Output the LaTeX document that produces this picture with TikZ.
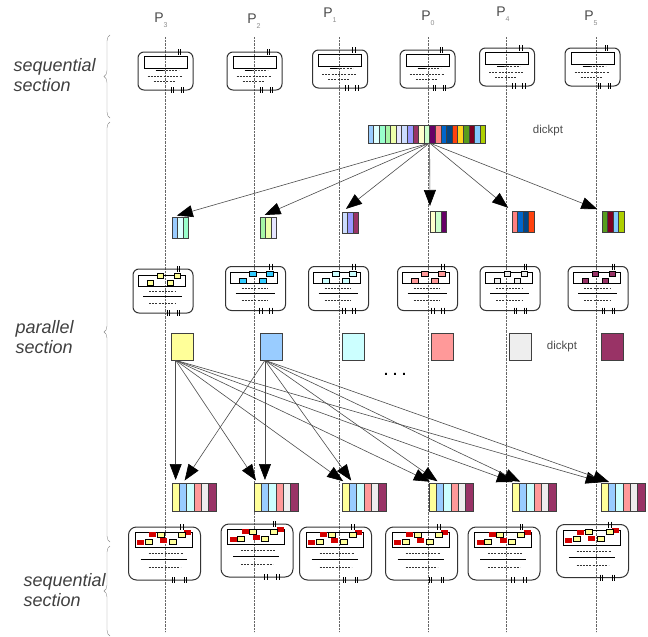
\documentclass[tikz,border=0pt]{standalone}
\usepackage{fontspec}
\setmainfont{Liberation Sans}
\usetikzlibrary{positioning, arrows.meta,
decorations.pathreplacing, % for the braces on the left
calc
}

% colours of the local dickpt pieces
\definecolor{p3a}{HTML}{99CCFF}
\definecolor{p3b}{HTML}{DDFFFF}
\definecolor{p3c}{HTML}{99FFCC}
\definecolor{p2a}{HTML}{A6F5A6}
\definecolor{p2b}{HTML}{EEFFAA}
\definecolor{p2c}{HTML}{E6E6FF}
\definecolor{p1a}{HTML}{CCDDFF}
\definecolor{p1b}{HTML}{9999FF}
\definecolor{p1c}{HTML}{993366}
\definecolor{p0a}{HTML}{FFFFCC}
\definecolor{p0b}{HTML}{CCFFCC}
\definecolor{p0c}{HTML}{660066}
\definecolor{p4a}{HTML}{FF8080}
\definecolor{p4b}{HTML}{0066CC}
\definecolor{p4c}{HTML}{004586}
\definecolor{p4d}{HTML}{FF420E}
\definecolor{gld}{HTML}{FFD320}
\definecolor{p5a}{HTML}{579D1C}
\definecolor{p5b}{HTML}{7E0021}
\definecolor{p5c}{HTML}{83CAFF}
\definecolor{p5d}{HTML}{AECF00}
% colours of the merged dickpt
\definecolor{ylw}{HTML}{FFFF99}
\definecolor{blu}{HTML}{99CCFF}
\definecolor{cyn}{HTML}{CCFFFF}
\definecolor{sal}{HTML}{FF9999}
\definecolor{gry}{HTML}{EEEEEE}
\definecolor{mar}{HTML}{993366}
\definecolor{sky}{HTML}{33CCFF}
\definecolor{rd}{HTML}{D40000}

% two short bars across a line
\newcommand{\tk}[2]{\draw (#1-1.3,#2-3) -- (#1-1.3,#2+3) (#1+1.3,#2-3) -- (#1+1.3,#2+3);}

% a row of stripes #1<i>, first one with its corner at #2
\newcommand{\stripes}[5]{%
  \foreach \col [count=\i] in {#5} {
    \ifnum\i=1
      \node[stripe, minimum width=#3, minimum height=#4, fill=\col, anchor=north west] (#1\i) at (#2) {};
    \else
      \pgfmathtruncatemacro{\j}{\i-1}
      \node[stripe, minimum width=#3, minimum height=#4, fill=\col, right=0pt of #1\j] (#1\i) {};
    \fi
  }}

% insides of the boxes
\newcommand{\seqmarks}[1]{%
  \begin{scope}[shift={(#1.center)}]
    \draw[thick] (-21.5,-15) rectangle (21.5,-3);
    \draw (-10,-1) -- (-3,-1);
    \draw[dline] (-3,-1) -- (13,-1);
    \draw[dline] (-18,5) -- (17,5);
    \draw[dline] (-12,10) -- (10,10);
    \tk{13.5}{-19}
    \tk{6.5}{19}\tk{16.5}{19}
  \end{scope}}
\newcommand{\parmarks}[2]{%
  \begin{scope}[shift={(#1.center)}]
    \draw[thick] (-25,-16) rectangle (22,-5);
    \foreach \px/\py in {-3/-15, 14/-15, -13/-8, 7/-8}
      \draw[fill=#2] (\px-3.3,\py-2.5) rectangle (\px+3.3,\py+2.5);
    \draw[dline] (-14,0) -- (12,0);
    \draw[thick] (-20,5) -- (19,5);
    \draw[dline] (-14,12) -- (12,12);
    \tk{15}{-22}
    \tk{5}{22}\tk{15}{22}
  \end{scope}}
\newcommand{\finmarks}[1]{%
  \begin{scope}[shift={(#1.center)}]
    \draw[thick] (-29.5,-21) rectangle (27.5,-6);
    \foreach \px/\py in {-12/-19, 23/-21, -24/-11, -1/-13}
      \fill[rd] (\px-3.5,\py-2.5) rectangle (\px+3.5,\py+2.5);
    \foreach \px/\py in {-4/-19, 17/-19, -16/-12, 8/-12}
      \draw[fill=ylw] (\px-3.5,\py-2.5) rectangle (\px+3.5,\py+2.5);
    \draw[dline] (-16,0) -- (18,0);
    \draw[thick] (-24,6) -- (22,6);
    \draw[dline] (-16,14) -- (16,14);
    \tk{17}{-26.5}
    \tk{8.5}{26.5}\tk{20.5}{26.5}
  \end{scope}}

\begin{document}
\begin{tikzpicture}[x=1pt, y=-1pt,
  proc/.style={densely dotted, black!60},
  plab/.style={font=\fontsize{14}{14}\selectfont, text=black!70, inner sep=0pt},
  sbox/.style={draw=black!80, line width=1pt, rounded corners=6pt, minimum width=55pt, minimum height=38pt, inner sep=0pt},
  pbox/.style={sbox, minimum width=60pt, minimum height=44pt},
  ebox/.style={sbox, rounded corners=8pt, minimum width=72pt, minimum height=53pt},
  stripe/.style={draw=black!75, line width=0.6pt, inner sep=0pt, outer sep=0pt},
  cpt/.style={draw=black!75, line width=0.6pt, minimum width=22pt, minimum height=27pt, inner sep=0pt},
  dline/.style={dash pattern=on 2pt off 1.2pt, black!80},
  arr/.style={-{Triangle[length=16pt,width=12pt,color=black]}, black!70, line width=0.6pt, shorten >=5pt},
  brc/.style={decorate, decoration={brace, amplitude=6pt}, black!45},
  sec/.style={font=\fontsize{18}{20}\selectfont\itshape, text=black!75, align=left, anchor=west},
  lbl/.style={font=\fontsize{11.5}{12}\selectfont, text=black!70}
  ]
  \useasboundingbox (0,0) rectangle (648,637);

  % processes
  \foreach \n/\x/\lx/\ly in {3/165/161/20, 2/254/254/21, 1/339/330/15, 0/428/428/18, 4/506/503/14, 5/596/591/18} {
    \node[plab] (lp\n) at (\lx,\ly) {P\raisebox{-5pt}{\fontsize{7}{7}\selectfont\color{black!45}\n}};
    \draw[proc] (\x,37) -- (\x,632);
  }

  % first sequential section
  \foreach \n/\x/\y in {3/165.5/71, 2/254.5/71, 1/340/69, 0/427.5/69, 4/507/67, 5/592.5/67} {
    \node[sbox] (sq\n) at (\x,\y) {};
    \seqmarks{sq\n}
  }

  % dickpt split over the processes
  \stripes{dk}{368,125}{5.6pt}{18pt}{p3a,p3b,p3c,p2a,p2b,p2c,p1a,p1b,p1c,p0a,p0b,p0c,p4a,p4b,p4c,p4d,gld,p5a,p5b,p5c,p5d}
  \node[lbl] (lbdk) at (548,131) {dickpt};
  \stripes{sm3}{172,217}{5.5pt}{21pt}{p3a,p3b,p3c}
  \stripes{sm2}{260,217}{5.5pt}{21pt}{p2a,p2b,p2c}
  \stripes{sm1}{342,212}{5.5pt}{21pt}{p1a,p1b,p1c}
  \stripes{sm0}{430,211}{5.5pt}{21pt}{p0a,p0b,p0c}
  \stripes{sm4}{512,211}{5.5pt}{21pt}{p4a,p4b,p4c,p4d}
  \stripes{sm5}{602,211}{5.5pt}{21pt}{p5a,p5b,p5c,p5d}
  \foreach \n in {3,2,1,0,4,5}
    \draw[arr] (dk11.south east) -- (sm\n1.north west);

  % parallel section
  \foreach \n/\x/\y/\col in {3/163/291/ylw, 2/255.5/288.5/sky, 1/338.5/288.5/cyn, 0/427.5/288.5/sal, 4/510/288.5/gry, 5/598/288.5/mar} {
    \node[pbox] (pb\n) at (\x,\y) {};
    \parmarks{pb\n}{\col}
  }
  \foreach \n/\x/\col in {3/182/ylw, 2/271/blu, 1/353/cyn, 0/442.5/sal, 4/520/gry, 5/612/mar}
    \node[cpt, fill=\col] (dq\n) at (\x,346.5) {};
  \node[lbl] (lbcp) at (562,347) {dickpt};
  \node[font=\bfseries\Large] (etc) at (395,374) {.\hspace{5pt}.\hspace{5pt}.};

  % merged dickpt on every process
  \foreach \n/\x in {3/172, 2/254, 1/342, 0/429, 4/512, 5/601} {
    \stripes{b\n}{\x,483}{7.3pt}{28pt}{ylw,blu,cyn,sal,gry,mar}
  }
  \foreach \n in {3,2,1,0,4,5} {
    \draw[arr, shorten >=3pt] (dq3.south -| b31) -- (b\n1.north);
    \draw[arr, shorten >=3pt] (dq2.south -| b22) -- (b\n2.north);
  }

  % second sequential section
  \foreach \n/\x/\y in {3/164.5/553.5, 2/257/550.5, 1/335.5/553.5, 0/421.5/553.5, 4/504/553.5, 5/592.5/551} {
    \node[ebox] (eb\n) at (\x,\y) {};
    \finmarks{eb\n}
  }

  % sections
  \draw[brc] (110,118) -- (110,35);
  \draw[brc] (110,542) -- (110,122);
  \draw[brc] (110,636) -- (110,546);
  \node[sec] (sec1) at (10,75) {sequential\\section};
  \node[sec] (sec2) at (12,337) {parallel\\section};
  \node[sec] (sec3) at (20,590) {sequential\\section};
\end{tikzpicture}
\end{document}
